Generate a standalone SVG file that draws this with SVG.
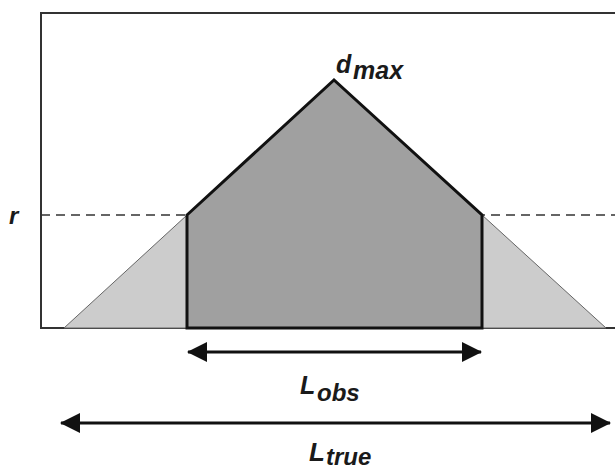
<svg xmlns="http://www.w3.org/2000/svg" width="615" height="471" viewBox="0 0 615 471">
<style>
.lbl{font-family:"Liberation Sans",Arial,sans-serif;font-weight:bold;font-style:italic;fill:#1a1a1a}
</style>
<defs>
<marker id="ah" viewBox="0 0 20 20" refX="19" refY="10" markerWidth="20" markerHeight="20" markerUnits="userSpaceOnUse" orient="auto-start-reverse">
<path d="M0,0 L20,10 L0,20 Z" fill="#111"/>
</marker>
</defs>
<rect width="615" height="471" fill="#fff"/>
<g id="frame">
<path d="M616,13 H41 V328 H615" fill="none" stroke="#333" stroke-width="2"/>
</g>
<g id="true-triangle">
<polygon points="64,328 334,80 606,328" fill="#cccccc" stroke="#666" stroke-width="1"/>
</g>
<g id="threshold">
<line x1="41" y1="215" x2="615" y2="215" stroke="#333" stroke-width="1.5" stroke-dasharray="9,6"/>
</g>
<g id="observed">
<polygon points="187,215 334,80 482,215 482,328 187,328" fill="#a0a0a0" stroke="#111" stroke-width="3" stroke-linejoin="miter"/>
</g>
<g id="connectors">
<line x1="188" y1="352" x2="481" y2="352" stroke="#111" stroke-width="3" marker-start="url(#ah)" marker-end="url(#ah)"/>
<line x1="61" y1="423" x2="610" y2="423" stroke="#111" stroke-width="3" marker-start="url(#ah)" marker-end="url(#ah)"/>
</g>
<g id="labels">
<text class="lbl" x="336" y="73" font-size="25">d</text>
<text class="lbl" x="353" y="79" font-size="25">max</text>
<text class="lbl" x="9" y="224" font-size="24">r</text>
<text class="lbl" x="300" y="394" font-size="25">L</text>
<text class="lbl" x="317" y="401" font-size="24">obs</text>
<text class="lbl" x="309" y="461" font-size="26">L</text>
<text class="lbl" x="326" y="465" font-size="24">true</text>
</g>
</svg>
